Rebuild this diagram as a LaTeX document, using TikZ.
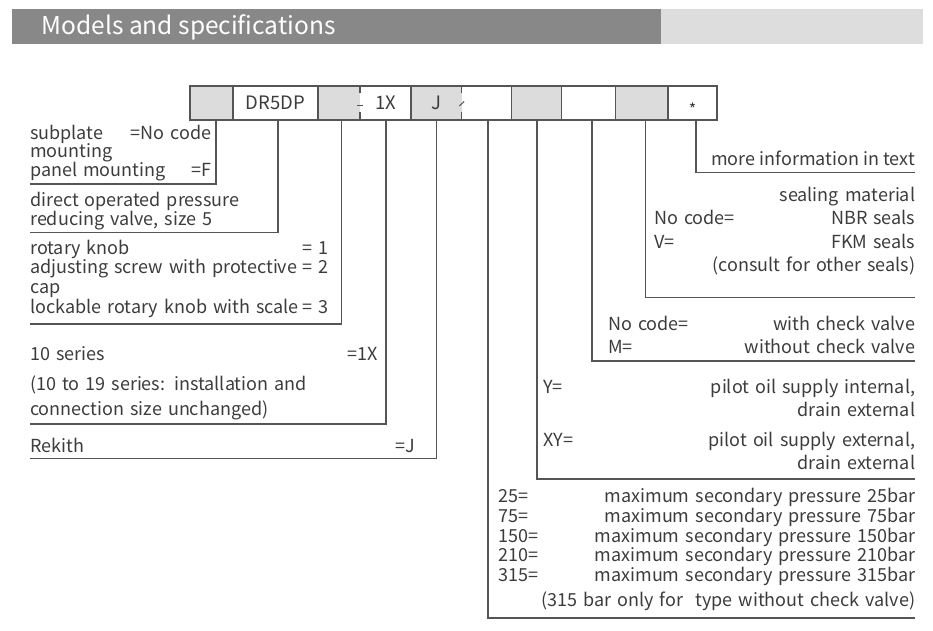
\documentclass[tikz,border=0pt]{standalone}
\usepackage{fontspec}
\setmainfont{Noto Sans CJK SC}
\usepackage{tikz}

\definecolor{headdark}{HTML}{888888}
\definecolor{headlight}{HTML}{DCDDDC}
\definecolor{cellgrey}{HTML}{DBDCDB}
\definecolor{linegrey}{HTML}{555555}
\definecolor{textgrey}{HTML}{3C3C3C}
\newcommand{\fillgap}{\hskip 0pt plus 1filll\relax}

\begin{document}
\begin{tikzpicture}[x=1pt, y=-1pt, font=\fontsize{18}{18}\selectfont,
    cell/.style={anchor=west, minimum height=34pt, inner sep=0pt, outer sep=0pt, text=textgrey,
        font=\fontsize{18.5}{18.5}\selectfont},
    greycell/.style={cell, fill=cellgrey},
    lead/.style={draw=linegrey, line width=1.2pt},
    spec/.style 2 args={anchor=base west, inner sep=0pt, align=left, text width=#1pt,
        text=textgrey, execute at begin node={\fontsize{18}{#2}\selectfont\lineskiplimit=-50pt\relax}}]
    \useasboundingbox (0,0) rectangle (933,630);

    % Header
    \fill[headdark] (12,9) rectangle (661,44);
    \fill[headlight] (661,9) rectangle (923,44);
    \node[anchor=base west, inner sep=0pt, text=white, font=\fontsize{24.5}{24.5}\selectfont] (title) at (41.5,34.5) {Models and specifications};

    % Code cells
    \node[greycell, minimum width=43pt] (c1) at (190,103) {};
    \node[cell, minimum width=85pt] (c2) at (233,103) {DR5DP};
    \node[greycell, minimum width=42pt] (c3) at (318,103) {};
    \node[cell, minimum width=51pt] (c4) at (360,103) {1X};
    \node[greycell, minimum width=50.7pt] (c5) at (411,103) {J};
    \node[cell, minimum width=49.7pt] (c6) at (461.7,103) {};
    \node[greycell, minimum width=50.4pt] (c7) at (511.4,103) {};
    \node[cell, minimum width=53.7pt] (c8) at (561.8,103) {};
    \node[greycell, minimum width=52.5pt] (c9) at (615.5,103) {};
    \node[cell, minimum width=49pt] (c10) at (668,103) {\smash{\raisebox{-12pt}{\fontsize{16}{16}\selectfont *}}};

    \draw[lead] (c1.north west) rectangle (c10.south east);
    \foreach \c in {c2,c3,c5,c7,c8,c9,c10}
        \draw[lead] (\c.north west) -- (\c.south west);
    \foreach \c in {c4,c6} {
        \draw[lead] (\c.north west) -- ++(0,7);
        \draw[lead] (\c.south west) -- ++(0,-8);
    }
    \draw[lead, line width=1pt] ([shift={(-3pt,-2pt)}]c4.west) -- ++(6,0);
    \draw[lead, line width=1pt] ([shift={(-2.5pt,-3pt)}]c6.west) -- ++(5,-4.5);

    % Left texts
    \node[spec={181}{18.7}] (mount) at (30,139) {subplate\fillgap =No code\\mounting\\panel mounting\fillgap =F};
    \node[spec={260}{19.5}] (valve) at (30,206) {direct operated pressure\\reducing valve, size 5};
    \node[spec={298}{19.7}] (adjust) at (30,254) {rotary knob\fillgap = 1\\adjusting screw with protective\fillgap = 2\\cap\\lockable rotary knob with scale\fillgap = 3};
    \node[spec={348}{25}] (series) at (30,360) {10 series\fillgap =1X\\[5pt](10 to 19 series: installation and\\connection size unchanged)};
    \node[spec={385}{20}] (brand) at (30,452) {Rekith\fillgap =J};

    % Right texts
    \node[anchor=base east, inner sep=0pt, text=textgrey] (info) at (915,165) {more information in text};
    \node[spec={261}{23.3}] (seal) at (654,201.5) {\mbox{}\fillgap sealing material\\No code=\fillgap NBR seals\\V=\fillgap FKM seals\\\mbox{}\fillgap (consult for other seals)};
    \node[spec={307}{23}] (check) at (608,330) {No code=\fillgap with check valve\\M=\fillgap without check valve};
    \node[spec={372}{23}] (pilot) at (543,393) {Y=\fillgap pilot oil supply internal,\\\mbox{}\fillgap drain external\\[7pt]XY=\fillgap pilot oil supply external,\\\mbox{}\fillgap drain external};
    \node[spec={417}{19.8}] (press) at (498,502.5) {25=\fillgap maximum secondary pressure 25bar\\75=\fillgap maximum secondary pressure 75bar\\150=\fillgap maximum secondary pressure 150bar\\210=\fillgap maximum secondary pressure 210bar\\315=\fillgap maximum secondary pressure 315bar\\[5pt]\mbox{}\fillgap (315 bar only for\ \ type without check valve)};

    % Leader ends
    \coordinate (mountEnd) at (30,184);
    \coordinate (valveEnd) at (30,232.3);
    \coordinate (adjustEnd) at (30,324);
    \coordinate (seriesEnd) at (30,424);
    \coordinate (brandEnd) at (30,458.5);
    \coordinate (infoEnd) at (915,172.7);
    \coordinate (sealEnd) at (915,297.7);
    \coordinate (checkEnd) at (915,361);
    \coordinate (pilotEnd) at (915,479);
    \coordinate (pressEnd) at (915,618);

    % Leaders
    \foreach \c/\s/\e in {c1/4.5/mountEnd, c2/2.5/valveEnd, c3/2.7/adjustEnd, c4/0.5/seriesEnd,
            c5/0.4/brandEnd, c6/1.4/pressEnd, c7/0.4/pilotEnd, c8/3.4/checkEnd,
            c9/3.9/sealEnd, c10/3.5/infoEnd}
        \draw[lead] ([xshift=\s pt]\c.south) |- (\e);
\end{tikzpicture}
\end{document}
